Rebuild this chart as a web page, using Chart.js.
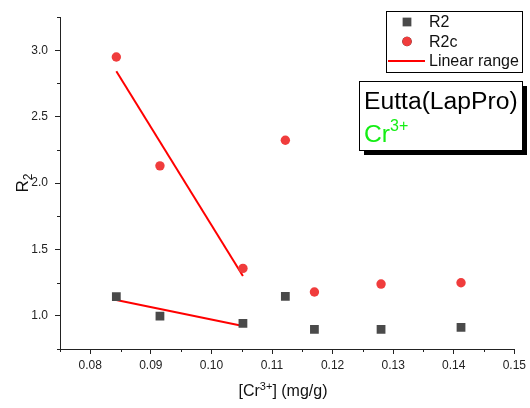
<!DOCTYPE html>
<html>
<head>
<meta charset="utf-8">
<script src="https://cdn.jsdelivr.net/npm/chart.js@4/dist/chart.umd.min.js"></script>
<style>
    body { margin: 0; background: #fff; }
    #wrap { width: 530px; height: 408px; }
</style>
</head>
<body>
<div id="wrap"><canvas id="r2Chart" width="530" height="408"></canvas></div>
<script>
// stężenie Cr3+ (mg/g)
var concentration = [0.0843, 0.0915, 0.1052, 0.1122, 0.1170, 0.1280, 0.1412];
var r2Values = [1.144, 0.997, 0.943, 1.146, 0.898, 0.898, 0.913];
var r2cValues = [2.949, 2.129, 1.357, 2.322, 1.179, 1.239, 1.249];

// zakres liniowy - dopasowanie na pierwszych trzech punktach
var fitX = [0.0843, 0.1052];
var r2cFit = [2.842, 1.299];
var r2Fit = [1.119, 0.923];

var xTicks = [0.08, 0.09, 0.10, 0.11, 0.12, 0.13, 0.14, 0.15];
var xMinorTicks = [0.075, 0.085, 0.095, 0.105, 0.115, 0.125, 0.135, 0.145];
var yTicks = [1.0, 1.5, 2.0, 2.5, 3.0];
var yMinorTicks = [0.75, 1.25, 1.75, 2.25, 2.75, 3.25];

var legendLabels = ['R2', 'R2c', 'Linear range'];

var FONT = "'Liberation Sans', Arial, sans-serif";
var SQUARE_COLOR = '#4a4a4a';
var CIRCLE_COLOR = '#f03c3c';
var LINE_COLOR = '#ff0000';

function toPoints(xs, ys){
    return xs.map(function(x, i){ return {x: x, y: ys[i]}; });
}

// text with a raised / lowered small part, e.g. Cr^3+ or R_2
function drawRichText(ctx, parts, x, y, align){
    var total = 0;
    parts.forEach(function(p){
        ctx.font = p.size + 'px ' + FONT;
        p.w = ctx.measureText(p.text).width;
        total += p.w;
    });
    var cx = align === 'center' ? x - total / 2 : x;
    ctx.textAlign = 'left';
    ctx.textBaseline = 'alphabetic';
    parts.forEach(function(p){
        ctx.font = p.size + 'px ' + FONT;
        ctx.fillStyle = p.color || '#111';
        ctx.fillText(p.text, cx, y + (p.dy || 0));
        cx += p.w;
    });
}

var extrasPlugin = {
    id: 'extras',
    afterDraw: function(chart){
        var ctx = chart.ctx;
        var xs = chart.scales.x;
        var ys = chart.scales.y;
        var area = chart.chartArea;

        ctx.save();
        // minor ticks
        ctx.strokeStyle = '#222';
        ctx.lineWidth = 1;
        ctx.beginPath();
        xMinorTicks.forEach(function(v){
            var px = Math.round(xs.getPixelForValue(v)) + 0.5;
            ctx.moveTo(px, area.bottom);
            ctx.lineTo(px, area.bottom + 3);
        });
        yMinorTicks.forEach(function(v){
            var py = Math.round(ys.getPixelForValue(v)) + 0.5;
            ctx.moveTo(area.left, py);
            ctx.lineTo(area.left - 3, py);
        });
        ctx.stroke();

        // axis titles
        drawRichText(ctx, [
            {text: '[Cr', size: 16},
            {text: '3+', size: 11, dy: -6},
            {text: '] (mg/g)', size: 16}
        ], 283, 396, 'center');

        ctx.save();
        ctx.translate(22, 183);
        ctx.rotate(-Math.PI / 2);
        drawRichText(ctx, [
            {text: 'R', size: 17},
            {text: '2', size: 12, dy: 4}
        ], 0, 6, 'center');
        ctx.restore();

        // legend
        var lx = 386, ly = 11, lw = 136, lh = 61;
        ctx.fillStyle = '#fff';
        ctx.fillRect(lx, ly, lw, lh);
        ctx.strokeStyle = '#000';
        ctx.strokeRect(lx + 0.5, ly + 0.5, lw, lh);
        var rows = [22, 41.5, 61];
        var ds = chart.data.datasets;
        legendLabels.forEach(function(label, i){
            var d = ds[i];
            var ry = rows[i];
            if (d.showLine) {
                ctx.strokeStyle = d.borderColor;
                ctx.lineWidth = d.borderWidth;
                ctx.beginPath();
                ctx.moveTo(388, ry);
                ctx.lineTo(425, ry);
                ctx.stroke();
            } else {
                Chart.helpers.drawPoint(ctx, {
                    pointStyle: d.pointStyle,
                    radius: d.pointRadius,
                    borderWidth: 0
                }, 407, ry);
                ctx.fillStyle = d.backgroundColor;
                ctx.fill();
            }
            ctx.font = '16px ' + FONT;
            ctx.fillStyle = '#111';
            ctx.textAlign = 'left';
            ctx.textBaseline = 'middle';
            ctx.fillText(label, 429, ry + 1);
        });

        // opis próbki
        var bx = 359, by = 81, bw = 163, bh = 69;
        ctx.fillStyle = '#000';
        ctx.fillRect(bx + 5, by + 5, bw, bh);
        ctx.fillStyle = '#fff';
        ctx.fillRect(bx, by, bw, bh);
        ctx.strokeStyle = '#000';
        ctx.lineWidth = 1;
        ctx.strokeRect(bx + 0.5, by + 0.5, bw, bh);
        drawRichText(ctx, [{text: 'Eutta(LapPro)', size: 24.7, color: '#000'}], 364, 108.5, 'left');
        drawRichText(ctx, [
            {text: 'Cr', size: 24.7, color: '#14ee14'},
            {text: '3+', size: 16, dy: -11, color: '#14ee14'}
        ], 364, 142, 'left');
        ctx.restore();
    }
};

document.addEventListener('DOMContentLoaded', function(){
    var ctx = document.getElementById('r2Chart').getContext('2d');
    var myChart = new Chart(ctx, {
        type: 'scatter',
        data: {
            datasets: [{
                label: 'R2',
                data: toPoints(concentration, r2Values),
                pointStyle: 'rect',
                pointRadius: 6.2,
                pointHoverRadius: 6.2,
                backgroundColor: SQUARE_COLOR,
                borderWidth: 0
            }, {
                label: 'R2c',
                data: toPoints(concentration, r2cValues),
                pointStyle: 'circle',
                pointRadius: 4.7,
                pointHoverRadius: 4.7,
                backgroundColor: CIRCLE_COLOR,
                borderWidth: 0
            }, {
                label: 'Linear range',
                data: toPoints(fitX, r2cFit),
                showLine: true,
                pointRadius: 0,
                borderColor: LINE_COLOR,
                borderWidth: 2
            }, {
                label: 'Linear range R2',
                data: toPoints(fitX, r2Fit),
                showLine: true,
                pointRadius: 0,
                borderColor: LINE_COLOR,
                borderWidth: 2
            }]
        },
        options: {
            responsive: false,
            animation: false,
            devicePixelRatio: 1,
            layout: {
                padding: {left: 0, top: 17, right: 13, bottom: 0}
            },
            scales: {
                x: {
                    type: 'linear',
                    min: 0.075,
                    max: 0.15,
                    afterFit: function(scale){ scale.height = 59; },
                    afterBuildTicks: function(scale){
                        scale.ticks = xTicks.map(function(v){ return {value: v}; });
                    },
                    border: {display: true, color: '#222', width: 1},
                    grid: {
                        drawOnChartArea: false,
                        drawTicks: true,
                        tickLength: 5,
                        tickColor: '#222'
                    },
                    ticks: {
                        padding: 4,
                        color: '#222',
                        font: {family: FONT, size: 12},
                        maxRotation: 0,
                        callback: function(v){ return v.toFixed(2); }
                    }
                },
                y: {
                    type: 'linear',
                    min: 0.75,
                    max: 3.25,
                    afterFit: function(scale){ scale.width = 60; },
                    afterBuildTicks: function(scale){
                        scale.ticks = yTicks.map(function(v){ return {value: v}; });
                    },
                    border: {display: true, color: '#222', width: 1},
                    grid: {
                        drawOnChartArea: false,
                        drawTicks: true,
                        tickLength: 5,
                        tickColor: '#222'
                    },
                    ticks: {
                        padding: 7,
                        color: '#222',
                        font: {family: FONT, size: 12},
                        callback: function(v){ return v.toFixed(1); }
                    }
                }
            },
            plugins: {
                legend: {display: false},
                tooltip: {enabled: false}
            }
        },
        plugins: [extrasPlugin]
    });
});
</script>
</body>
</html>
